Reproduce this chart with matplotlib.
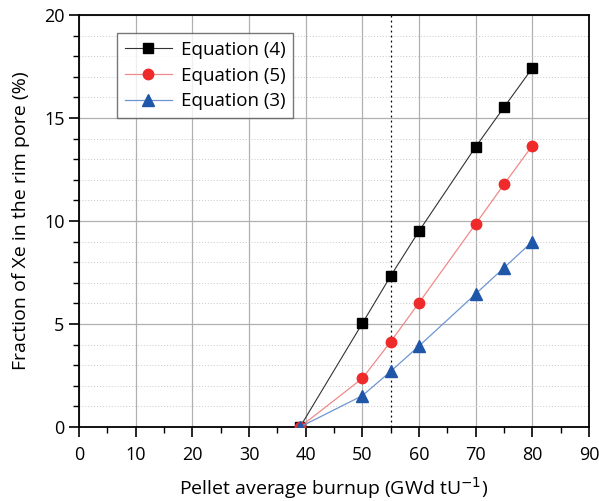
import matplotlib
matplotlib.use("Agg")
import matplotlib.pyplot as plt
from matplotlib.ticker import MultipleLocator

burnup = [39, 50, 55, 60, 70, 75, 80]
eq4 = [0, 5.03, 7.33, 9.51, 13.6, 15.52, 17.42]
eq5 = [0, 2.36, 4.14, 6.03, 9.86, 11.78, 13.66]
eq3 = [0, 1.52, 2.70, 3.93, 6.46, 7.73, 9.0]

plt.rcParams["font.family"] = ["Open Sans", "DejaVu Sans"]

fig = plt.figure(figsize=(5.99, 5.01), dpi=100)
ax = fig.add_axes([79 / 599, 1 - 427 / 501, 510 / 599, 412 / 501])

ax.plot(burnup, eq4, color="#333333", lw=0.8, marker="s", ms=6.5,
        mfc="black", mec="black", label="Equation (4)", zorder=5)
ax.plot(burnup, eq5, color="#f08a8a", lw=0.9, marker="o", ms=7.5,
        mfc="#ee2a2a", mec="#ee2a2a", label="Equation (5)", zorder=5)
ax.plot(burnup, eq3, color="#6f95d0", lw=0.9, marker="^", ms=8,
        mfc="#1f56a8", mec="#1f56a8", label="Equation (3)", zorder=5)

# burnup threshold marker
ax.axvline(55, color="black", lw=0.9, ls=(0, (1.5, 2.5)), zorder=3)

ax.set_xlim(0, 90)
ax.set_ylim(0, 20)
ax.xaxis.set_major_locator(MultipleLocator(10))
ax.xaxis.set_minor_locator(MultipleLocator(5))
ax.yaxis.set_major_locator(MultipleLocator(5))
ax.yaxis.set_minor_locator(MultipleLocator(1))

ax.grid(which="major", color="#b0b0b0", lw=0.9)
ax.grid(which="minor", axis="y", color="#c8c8c8", lw=0.7, ls=(0, (1, 2)))
ax.set_axisbelow(True)

ax.tick_params(which="major", direction="out", length=7, width=1.2,
               labelsize=13, top=False, right=False)
ax.tick_params(axis="x", which="major", pad=7)
ax.tick_params(which="minor", direction="out", length=4, width=1.0,
               top=False, right=False)
for s in ax.spines.values():
    s.set_linewidth(1.3)

ax.set_xlabel("Pellet average burnup (GWd tU$^{-1}$)", fontsize=14, labelpad=8)
ax.set_ylabel("Fraction of Xe in the rim pore (%)", fontsize=14, labelpad=10)

leg = ax.legend(loc="upper left", bbox_to_anchor=(0.075, 0.956), fontsize=13.5,
                frameon=True, fancybox=False, handlelength=2.5,
                borderpad=0.4, labelspacing=0.42, handletextpad=0.5,
                borderaxespad=0)
leg.get_frame().set_edgecolor("#555555")
leg.get_frame().set_linewidth(1.0)

fig.savefig("out.png", dpi=100)
